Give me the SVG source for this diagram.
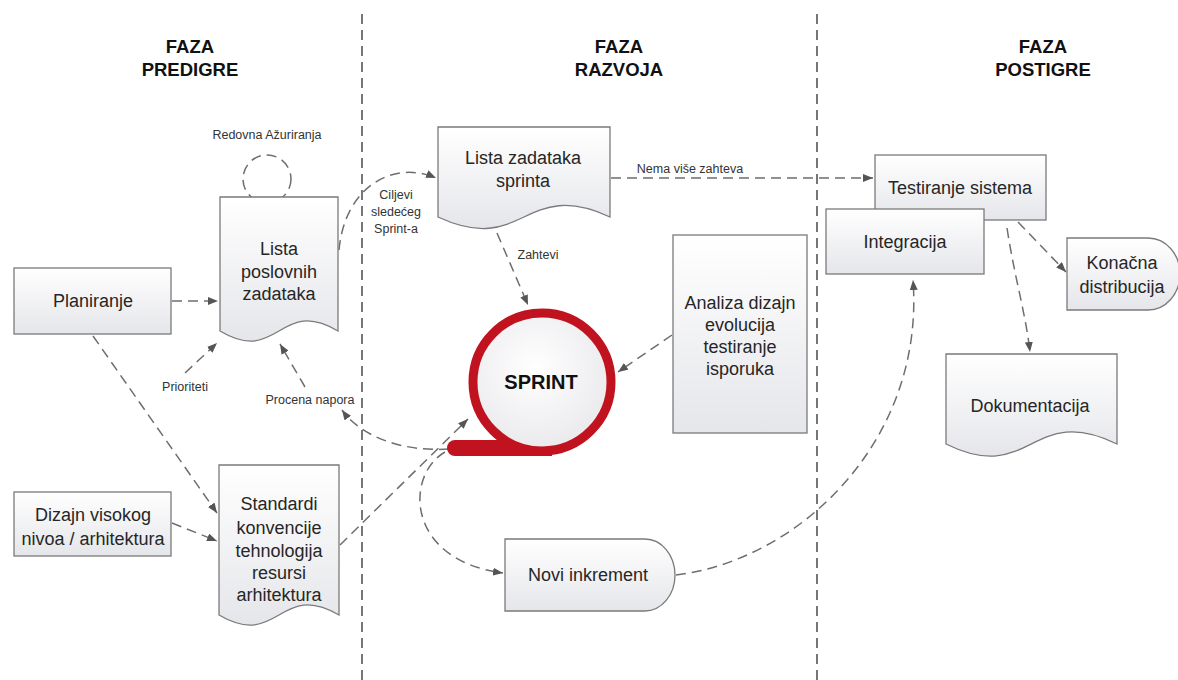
<svg xmlns="http://www.w3.org/2000/svg" width="1178" height="680" viewBox="0 0 1178 680">
  <defs>
    <linearGradient id="shapeFill" x1="0" y1="0" x2="0" y2="1">
      <stop offset="0" stop-color="#ffffff"/>
      <stop offset="1" stop-color="#e5e6ea"/>
    </linearGradient>
    <radialGradient id="sprintFill" cx="0.45" cy="0.4" r="0.65">
      <stop offset="0" stop-color="#ffffff"/>
      <stop offset="1" stop-color="#e8e8ec"/>
    </radialGradient>
    <marker id="arrow" viewBox="0 0 10 8" refX="10" refY="4" markerWidth="10" markerHeight="8" markerUnits="userSpaceOnUse" orient="auto">
      <path d="M0,0 L10,4 L0,8 Z" fill="#555"/>
    </marker>
  </defs>
  <style>
    .shape { fill: url(#shapeFill); stroke: #7a7a7a; stroke-width: 1.3; }
    .lbl { font-family: "Liberation Sans", Arial, sans-serif; font-size: 18px; fill: #262626; text-anchor: middle; }
    .small { font-family: "Liberation Sans", Arial, sans-serif; font-size: 12.5px; fill: #333; text-anchor: middle; }
    .head { font-family: "Liberation Sans", Arial, sans-serif; font-size: 18.5px; font-weight: bold; fill: #111; text-anchor: middle; }
    .conn { fill: none; stroke: #6e6e6e; stroke-width: 1.5; stroke-dasharray: 10 6; }
    .phase { stroke: #555; stroke-width: 1.6; stroke-dasharray: 10 6; }
  </style>

  <rect width="1178" height="680" fill="#ffffff"/>

  <!-- phase separators -->
  <g id="phases">
    <line class="phase" x1="362" y1="14" x2="362" y2="680"/>
    <line class="phase" x1="817" y1="14" x2="817" y2="680"/>
    <text class="head" x="190" y="53">FAZA</text>
    <text class="head" x="190" y="76">PREDIGRE</text>
    <text class="head" x="619" y="53">FAZA</text>
    <text class="head" x="619" y="76">RAZVOJA</text>
    <text class="head" x="1043" y="53">FAZA</text>
    <text class="head" x="1043" y="76">POSTIGRE</text>
  </g>

  <!-- connectors -->
  <g id="connectors">
    <circle class="conn" cx="267" cy="179" r="24"/>
    <path class="conn" d="M172 301 L218 301" marker-end="url(#arrow)"/>
    <path class="conn" d="M93 336 L217 513" marker-end="url(#arrow)"/>
    <path class="conn" d="M172 523 L217 541" marker-end="url(#arrow)"/>
    <path class="conn" d="M185 373 L217 343" marker-end="url(#arrow)"/>
    <path class="conn" d="M305 387 L280 344" marker-end="url(#arrow)"/>
    <path class="conn" d="M339 250 C345 185, 395 160, 436 178" marker-end="url(#arrow)"/>
    <path class="conn" d="M497 233 L528 305" marker-end="url(#arrow)"/>
    <path class="conn" d="M611 178 L873 178" marker-end="url(#arrow)"/>
    <path class="conn" d="M672 335 L618 372" marker-end="url(#arrow)"/>
    <path class="conn" d="M340 545 L468 419" marker-end="url(#arrow)"/>
    <path class="conn" d="M449 449 C405 452, 362 438, 342 410" marker-end="url(#arrow)"/>
    <path class="conn" d="M445 452 C405 475, 405 560, 503 573" marker-end="url(#arrow)"/>
    <path class="conn" d="M676 575 C800 560, 925 440, 913 280" marker-end="url(#arrow)"/>
    <path class="conn" d="M1018 222 L1066 272" marker-end="url(#arrow)"/>
    <path class="conn" d="M1007 228 C1015 280, 1025 310, 1030 352" marker-end="url(#arrow)"/>

    <text class="small" x="267" y="139">Redovna Ažuriranja</text>
    <text class="small" x="396" y="199">Ciljevi</text>
    <text class="small" x="396" y="216">sledećeg</text>
    <text class="small" x="396" y="233">Sprint-a</text>
    <text class="small" x="185" y="391">Prioriteti</text>
    <text class="small" x="310" y="404">Procena napora</text>
    <text class="small" x="538" y="259">Zahtevi</text>
    <text class="small" x="690" y="173">Nema više zahteva</text>
  </g>

  <g id="planiranje">
    <rect class="shape" x="14" y="268" width="157" height="66"/>
    <text class="lbl" x="93" y="307">Planiranje</text>
  </g>

  <g id="dizajn">
    <rect class="shape" x="14" y="492" width="157" height="64"/>
    <text class="lbl" x="93" y="521">Dizajn visokog</text>
    <text class="lbl" x="93" y="545">nivoa / arhitektura</text>
  </g>

  <g id="lista-poslovnih">
    <path class="shape" d="M220 197 H338 V331 C279 296, 279 366, 220 331 Z"/>
    <text class="lbl" x="279" y="255">Lista</text>
    <text class="lbl" x="279" y="278">poslovnih</text>
    <text class="lbl" x="279" y="300">zadataka</text>
  </g>

  <g id="standardi">
    <path class="shape" d="M219 465 H339 V615 C279 580, 279 650, 219 615 Z"/>
    <text class="lbl" x="279" y="510">Standardi</text>
    <text class="lbl" x="279" y="534">konvencije</text>
    <text class="lbl" x="279" y="557">tehnologija</text>
    <text class="lbl" x="279" y="579">resursi</text>
    <text class="lbl" x="279" y="601">arhitektura</text>
  </g>

  <g id="lista-sprinta">
    <path class="shape" d="M438 127 H610 V217 C524 177, 524 257, 438 217 Z"/>
    <text class="lbl" x="523" y="164">Lista zadataka</text>
    <text class="lbl" x="523" y="187">sprinta</text>
  </g>

  <g id="sprint">
    <path d="M455 440 H552 V456 H455 A8 8 0 0 1 455 440 Z" fill="#c1121f"/>
    <circle cx="542" cy="382" r="69" fill="url(#sprintFill)" stroke="#c1121f" stroke-width="9"/>
    <text x="541" y="389" font-family="'Liberation Sans', Arial, sans-serif" font-size="20" font-weight="bold" fill="#111" text-anchor="middle">SPRINT</text>
  </g>

  <g id="analiza">
    <rect class="shape" x="673" y="235" width="134" height="198"/>
    <text class="lbl" x="740" y="309">Analiza dizajn</text>
    <text class="lbl" x="740" y="331">evolucija</text>
    <text class="lbl" x="740" y="353">testiranje</text>
    <text class="lbl" x="740" y="375">isporuka</text>
  </g>

  <g id="novi-inkrement">
    <path class="shape" d="M505 539 H645 A30 36 0 0 1 645 611 H505 Z"/>
    <text class="lbl" x="588" y="581">Novi inkrement</text>
  </g>

  <g id="testiranje">
    <rect class="shape" x="875" y="155" width="171" height="65"/>
    <text class="lbl" x="960" y="194">Testiranje sistema</text>
  </g>

  <g id="integracija">
    <rect class="shape" x="826" y="209" width="158" height="65"/>
    <text class="lbl" x="905" y="248">Integracija</text>
  </g>

  <g id="konacna">
    <path class="shape" d="M1067 238 H1148 A32 36 0 0 1 1148 310 H1067 Z"/>
    <text class="lbl" x="1122" y="269">Konačna</text>
    <text class="lbl" x="1122" y="293">distribucija</text>
  </g>

  <g id="dokumentacija">
    <path class="shape" d="M946 354 H1117 V444 C1031 402, 1031 486, 946 444 Z"/>
    <text class="lbl" x="1030" y="412">Dokumentacija</text>
  </g>
</svg>
